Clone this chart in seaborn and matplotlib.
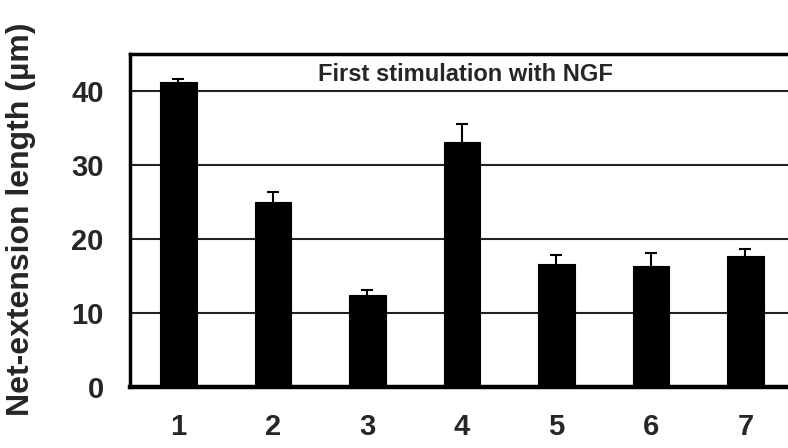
import pandas as pd
import seaborn as sns
import matplotlib.pyplot as plt

sns.set_theme(style="white")
plt.rcParams['font.family'] = ['Liberation Sans', 'DejaVu Sans']

conditions = ["1", "2", "3", "4", "5", "6", "7"]
net_extension = [41.2, 25.0, 12.4, 33.1, 16.6, 16.4, 17.7]
sem = [0.5, 1.4, 0.7, 2.5, 1.2, 1.7, 0.9]

df = pd.DataFrame({'Bedingung': conditions, 'Laenge': net_extension, 'SEM': sem})

fig = plt.figure(figsize=(7.88, 4.48), dpi=100)
ax = fig.add_axes([0.165, 0.136, 0.835, 0.743])

sns.barplot(data=df, x='Bedingung', y='Laenge', color='black', width=0.39,
            saturation=1, edgecolor='black', linewidth=0.8, ax=ax, zorder=3)
ax.errorbar(range(len(conditions)), df['Laenge'], yerr=df['SEM'], fmt='none',
            ecolor='black', elinewidth=1.5, capsize=4.5, capthick=1.5, zorder=4)

ax.set_ylim(0, 45)
ax.set_xlim(-0.513, 6.45)
ax.set_yticks([0, 10, 20, 30, 40])
for y in [10, 20, 30, 40]:
	ax.axhline(y, color='#222222', linewidth=1.5, zorder=1)

ax.spines['right'].set_visible(False)
ax.spines['left'].set_linewidth(2.5)
ax.spines['bottom'].set_linewidth(3.2)
ax.spines['top'].set_linewidth(2.5)
for s in ['left', 'bottom', 'top']:
	ax.spines[s].set_color('black')

ax.tick_params(axis='y', length=10, width=3, color='black', direction='out',
               labelsize=21, pad=9)
ax.tick_params(axis='x', length=0, labelsize=21, pad=19)
for lab in ax.get_xticklabels() + ax.get_yticklabels():
	lab.set_fontweight('bold')

ax.set_xlabel('')
ax.set_ylabel('Net-extension length (µm)', fontsize=23, fontweight='bold')
ax.yaxis.set_label_coords(-0.143, 0.505)
ax.text(3.04, 42.3, 'First stimulation with NGF', ha='center', va='center',
        fontsize=17, fontweight='bold')

plt.savefig('out.png', dpi=100)
plt.close()
